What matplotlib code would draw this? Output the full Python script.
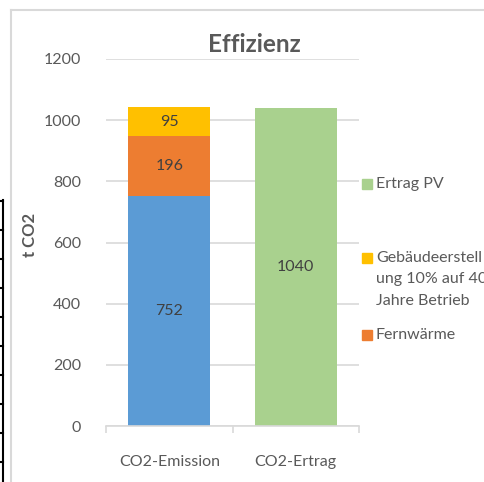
import matplotlib
matplotlib.use("Agg")
import matplotlib.pyplot as plt
from matplotlib.patches import Rectangle
from matplotlib.lines import Line2D

plt.rcParams['font.family'] = ['Lato', 'DejaVu Sans']

categories = ['CO2-Emission', 'CO2-Ertrag']
betrieb = [752, 0]        # blue
fernwaerme = [196, 0]     # orange
gebaeude = [95, 0]        # yellow
ertrag_pv = [0, 1040]     # green

blue = '#5B9BD5'
orange = '#ED7D31'
yellow = '#FFC000'
green = '#A9D18E'
txt = '#595959'
grid = '#D9D9D9'
fs = 11.5

W, H = 485, 482
fig = plt.figure(figsize=(W / 100, H / 100), dpi=100)
ax = fig.add_axes([106 / W, (H - 426) / H, (359 - 106) / W, (426 - 59) / H])

x = [0, 1]
w = 0.65
b1 = ax.bar(x, betrieb, w, color=blue, zorder=2)
b2 = ax.bar(x, fernwaerme, w, bottom=betrieb, color=orange, zorder=2)
bot3 = [a + b for a, b in zip(betrieb, fernwaerme)]
b3 = ax.bar(x, gebaeude, w, bottom=bot3, color=yellow, zorder=2)
b4 = ax.bar(x, ertrag_pv, w, color=green, zorder=2)

for bars, vals in [(b1, betrieb), (b2, fernwaerme), (b3, gebaeude), (b4, ertrag_pv)]:
    for bar, v in zip(bars, vals):
        if v:
            ax.text(bar.get_x() + bar.get_width() / 2, bar.get_y() + v / 2, str(v),
                    ha='center', va='center', fontsize=fs, color='#404040')

ax.set_xlim(-0.5, 1.5)
ax.set_ylim(0, 1200)
ax.set_yticks(range(0, 1201, 200))
ax.yaxis.grid(True, color=grid, linewidth=1.2, zorder=0)
ax.set_axisbelow(True)
for s in ['top', 'right', 'left']:
    ax.spines[s].set_visible(False)
ax.spines['bottom'].set_color(grid)
ax.spines['bottom'].set_linewidth(1.2)
ax.tick_params(axis='y', length=0, pad=18, labelsize=fs, labelcolor=txt)
ax.set_xticks(x)
ax.set_xticklabels(categories)
ax.tick_params(axis='x', which='major', length=0, pad=21, labelsize=fs, labelcolor=txt)
ax.set_xticks([-0.5, 0.5, 1.5], minor=True)
ax.tick_params(axis='x', which='minor', length=5, color=grid, width=1.2)

fig.text(30 / W, 1 - 235 / H, 't CO2', rotation=90, ha='center', va='center',
         fontsize=12, fontweight='bold', color=txt)
fig.text(254 / W, 1 - 45 / H, 'Effizienz', ha='center', va='center',
         fontsize=17.5, fontweight='bold', color=txt)

# legend drawn by hand, like the Excel one (the long entry runs off the edge, as in the original)
legend_items = [(green, 'Ertrag PV', 184),
                (yellow, 'Gebäudeerstell\nung 10% auf 40\nJahre Betrieb', 258),
                (orange, 'Fernwärme', 335)]
for col, lab, yy in legend_items:
    fig.patches.append(Rectangle((362 / W, 1 - (yy + 5) / H), 10 / W, 10 / H,
                                 transform=fig.transFigure, color=col))
    fig.text(376 / W, 1 - (yy - 7) / H, lab, ha='left', va='top', fontsize=fs,
             color=txt, linespacing=1.68)

# chart border and cell lines of the sheet
fig.add_artist(Line2D([11 / W, 11 / W], [0, 1 - 10 / H], color=grid, linewidth=1.5))
fig.add_artist(Line2D([11 / W, 1], [1 - 10 / H, 1 - 10 / H], color=grid, linewidth=1.5))
fig.add_artist(Line2D([3 / W, 3 / W], [0, 1 - 200 / H], color='black', linewidth=1.5))
for yy in range(201, 482, 29):
    fig.add_artist(Line2D([0, 3 / W], [1 - yy / H, 1 - yy / H], color='black', linewidth=1.5))

fig.savefig('out.png', dpi=100)
